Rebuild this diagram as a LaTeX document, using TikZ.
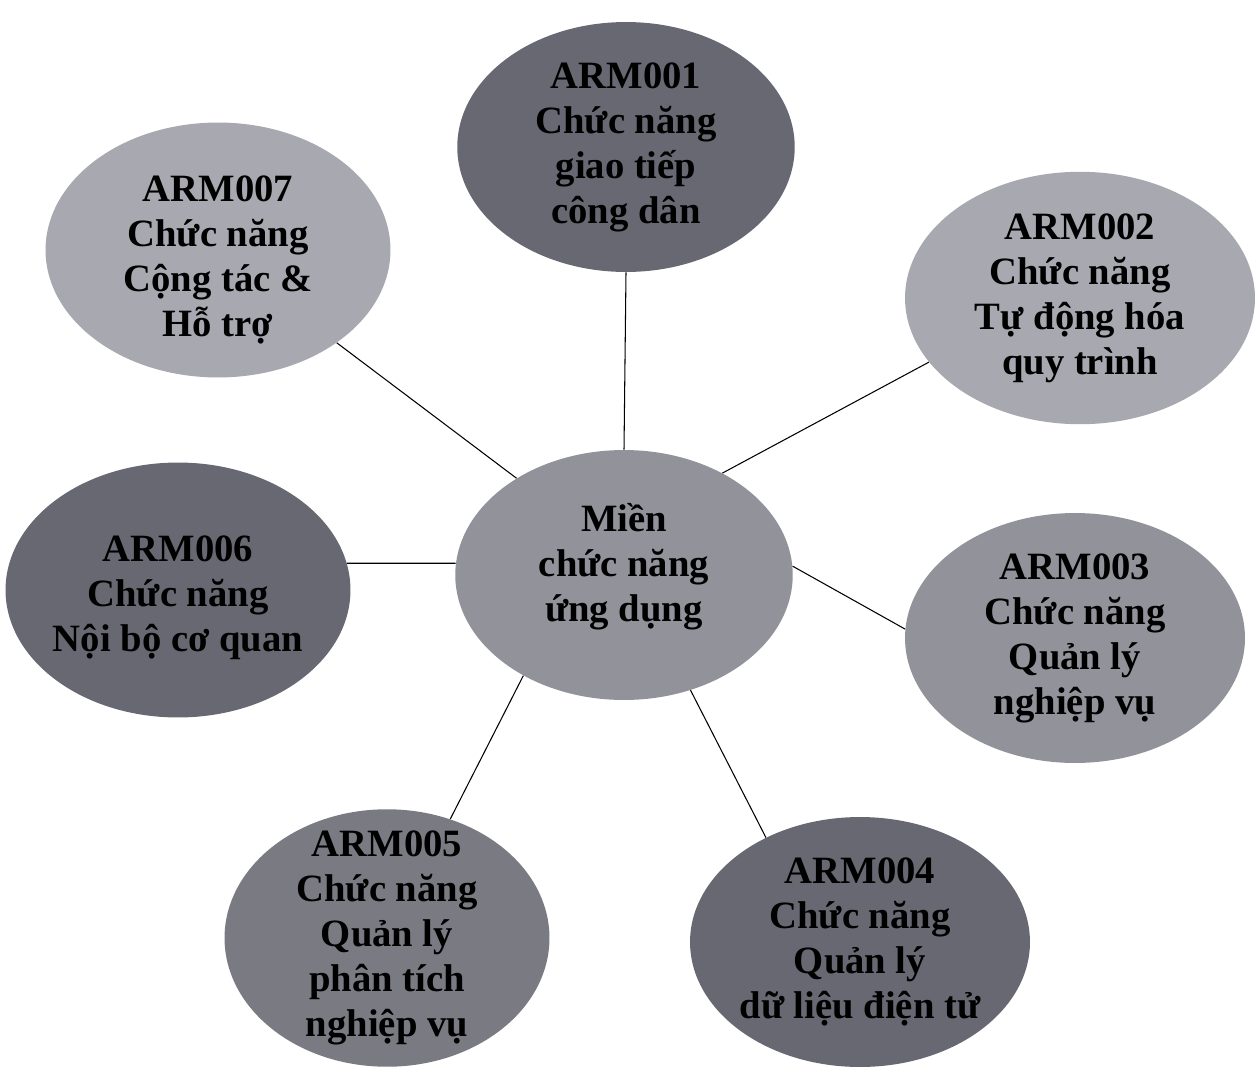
\documentclass[tikz,border=0pt]{standalone}
\usepackage{fontspec}
\setmainfont{Liberation Serif}
\usetikzlibrary{shapes.geometric}

\definecolor{xamnhat}{RGB}{168,168,176}
\definecolor{xamvua}{RGB}{146,146,155}
\definecolor{xamtrung}{RGB}{122,122,131}
\definecolor{xamdam}{RGB}{104,104,114}

\begin{document}
\begin{tikzpicture}[x=0.02cm, y=-0.02cm,
    bong/.style={ellipse, draw=none, inner sep=0pt},
    chu/.style={align=center, text=black, font=\fontsize{22}{25.6}\selectfont\bfseries},
    noi/.style={black, line width=0.6pt}]
    \useasboundingbox (0,0) rectangle (1258,1072);

    % Miền ở giữa
    \node[bong, fill=xamvua, minimum width=6.75cm, minimum height=5.0cm,
        label={[chu, yshift=0.16cm]center:Miền\\chức năng\\ứng dụng}] (mien) at (624,575) {};

    % Các chức năng xung quanh
    \node[bong, fill=xamdam, minimum width=6.75cm, minimum height=5.0cm,
        label={[chu]center:ARM001\\Chức năng\\giao tiếp\\công dân}] (arm1) at (626,147) {};
    \node[bong, fill=xamnhat, minimum width=7.0cm, minimum height=5.05cm,
        label={[chu]center:ARM002\\Chức năng\\Tự động hóa\\quy trình}] (arm2) at (1080,298) {};
    \node[bong, fill=xamvua, minimum width=6.8cm, minimum height=5.0cm,
        label={[chu]center:ARM003\\Chức năng\\Quản lý\\nghiệp vụ}] (arm3) at (1075,638) {};
    \node[bong, fill=xamdam, minimum width=6.8cm, minimum height=5.0cm,
        label={[chu]center:ARM004\\Chức năng\\Quản lý\\dữ liệu điện tử}] (arm4) at (860,942) {};
    \node[bong, fill=xamtrung, minimum width=6.5cm, minimum height=5.15cm,
        label={[chu]center:ARM005\\Chức năng\\Quản lý\\phân tích\\nghiệp vụ}] (arm5) at (387,938) {};
    \node[bong, fill=xamdam, minimum width=6.9cm, minimum height=5.1cm,
        label={[chu, yshift=-0.16cm]center:ARM006\\Chức năng\\Nội bộ cơ quan}] (arm6) at (178,590) {};
    \node[bong, fill=xamnhat, minimum width=6.9cm, minimum height=5.1cm,
        label={[chu, yshift=-0.2cm]center:ARM007\\Chức năng\\Cộng tác \&\\Hỗ trợ}] (arm7) at (218,250) {};

    % Đường nối
    \draw[noi] (mien.north) -- (arm1.south);
    \draw[noi] (mien.46) -- (arm2.203);
    \draw[noi] (mien.3) -- (arm3.177);
    \draw[noi] (mien.-60) -- (arm4.132);
    \draw[noi] (mien.225) -- (arm5.62);
    \draw[noi] (mien.176) -- (arm6.9);
    \draw[noi] (mien.138) -- (arm7.-38);
\end{tikzpicture}
\end{document}
